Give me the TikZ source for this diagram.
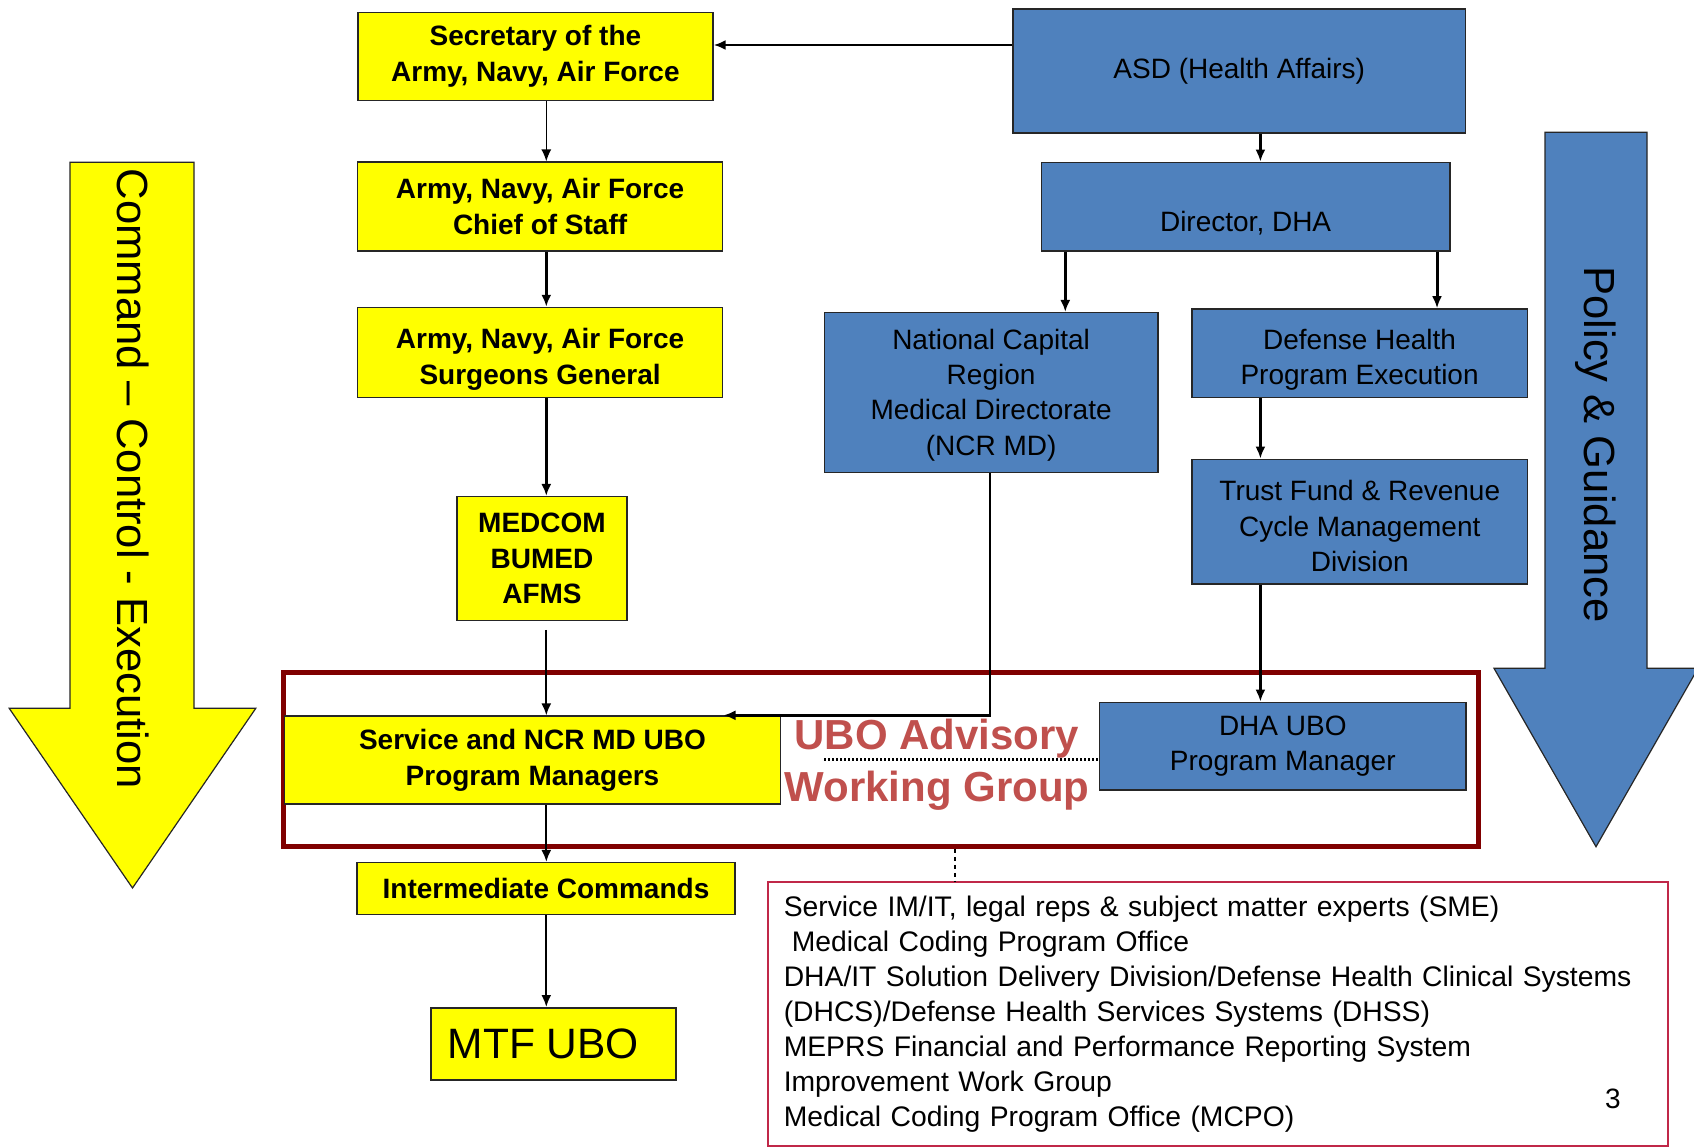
\documentclass[tikz,border=0pt]{standalone}
\usepackage{fontspec}
\setmainfont{Liberation Sans}
\usetikzlibrary{arrows.meta,calc}
\definecolor{ybox}{HTML}{FFFF00}
\definecolor{bbox}{HTML}{4F81BD}
\definecolor{awgframe}{HTML}{800000}
\definecolor{awgtext}{HTML}{C0504D}
\definecolor{listframe}{RGB}{192,40,72}
\tikzset{
  yelbox/.style={draw=black!85, line width=1.5pt, fill=ybox, inner sep=0pt, align=center,
    font=\fontsize{28}{35.5}\selectfont\bfseries},
  bluebox/.style={draw=black!85, line width=1.5pt, fill=bbox, inner sep=0pt, align=center,
    font=\fontsize{28}{35.3}\selectfont},
  ylabel/.style={inner sep=0pt, align=center, font=\fontsize{28}{35.5}\selectfont\bfseries},
  blabel/.style={inner sep=0pt, align=center, font=\fontsize{28}{35.3}\selectfont},
  bigarrowtext/.style={rotate=-90, font=\fontsize{43.6}{50}\selectfont, inner sep=0pt},
  conn/.style={line width=#1, -{Latex[length=12pt,width=10pt]}},
  conn/.default=2pt,
}
\begin{document}
\begin{tikzpicture}[x=1pt,y=-1pt]
\useasboundingbox (0,0) rectangle (1694,1146);
\begin{scope}
\clip (0,0) rectangle (1694,1146);
% big arrows
\draw[fill=ybox, draw=black!85, line width=1.2pt]
  (70,162.3) -- (194,162.3) -- (194,708.3) -- (255.8,708.3) -- (132.5,888)
  -- (9.2,708.3) -- (70,708.3) -- cycle;
\node[bigarrowtext] (cce) at (133,479) {Command – Control - Execution};
\draw[fill=bbox, draw=black!85, line width=1.2pt]
  (1545,132.3) -- (1647,132.3) -- (1647,668.3) -- (1698,668.3) -- (1596,846.7)
  -- (1494,668.3) -- (1545,668.3) -- cycle;
\node[bigarrowtext] (pg) at (1596,444.5) {Policy \& Guidance};
\end{scope}

% advisory working group frame
\node[draw=awgframe, line width=4.5pt, minimum width=1195pt, minimum height=174.4pt, inner sep=0pt]
  (awg) at (881.1,759.5) {};

% yellow boxes
\node[yelbox, minimum width=355pt, minimum height=88pt] (sec) at (535.4,56.5) {Secretary of the\\Army, Navy, Air Force};
\node[yelbox, minimum width=365pt, minimum height=89pt] (chief) at (540.1,206.7) {Army, Navy, Air Force\\Chief of Staff};
\node[yelbox, minimum width=365pt, minimum height=90pt,
  label={[ylabel, yshift=-7pt]center:{Army, Navy, Air Force\\Surgeons General}}] (surg) at (540.1,352.5) {};
\node[yelbox, minimum width=170pt, minimum height=124pt] (medcom) at (542,558.7) {MEDCOM\\BUMED\\AFMS};
\node[yelbox, minimum width=496pt, minimum height=88pt] (svc) at (532.5,760.2) {Service and NCR MD UBO\\Program Managers};
\node[yelbox, minimum width=378pt, minimum height=51.6pt] (inter) at (546,888.5) {Intermediate Commands};
\node[yelbox, minimum width=245pt, minimum height=72pt, font=\fontsize{42.5}{48}\selectfont] (mtf) at (553.3,1043.8) {\hspace*{-20pt}MTF UBO};

% blue boxes
\node[bluebox, minimum width=452.6pt, minimum height=123.7pt] (asd) at (1239.2,71) {ASD (Health Affairs)};
\node[bluebox, minimum width=408.6pt, minimum height=88.7pt,
  label={[blabel, yshift=-16pt]center:Director, DHA}] (dir) at (1245.6,206.7) {};
\node[bluebox, minimum width=333.3pt, minimum height=159.6pt,
  label={[blabel, yshift=-2.5pt]center:{National Capital\\Region\\Medical Directorate\\(NCR MD)}}] (ncr) at (991.1,392.5) {};
\node[bluebox, minimum width=335.6pt, minimum height=88.7pt,
  label={[blabel, yshift=-6.5pt]center:{Defense Health\\Program Execution}}] (dhpe) at (1359.6,353.3) {};
\node[bluebox, minimum width=335.5pt, minimum height=124.7pt,
  label={[blabel, yshift=-4.5pt]center:{Trust Fund \& Revenue\\Cycle Management\\Division}}] (trust) at (1359.8,521.7) {};
\node[bluebox, minimum width=366.5pt, minimum height=87.7pt] (dhaubo) at (1282.8,746.2) {DHA UBO\\Program Manager};

% advisory group title
\node[text=awgtext, font=\fontsize{42}{52.4}\selectfont\bfseries, align=center, inner sep=0pt]
  (awgtitle) at (937,765) {UBO Advisory\\Working Group};

% list box
\node[draw=listframe, line width=1.5pt, anchor=north west, minimum width=900pt, minimum height=264pt,
  text width=868pt, inner xsep=16pt, inner ysep=0pt, align=left,
  font=\fontsize{28.3}{35}\selectfont] (list) at (767,881)
  {Service IM/IT, legal reps \& subject matter experts (SME)\\
   \hspace*{8pt}Medical Coding Program Office\\
   DHA/IT Solution Delivery Division/Defense Health Clinical Systems\\
   (DHCS)/Defense Health Services Systems (DHSS)\\
   MEPRS Financial and Performance Reporting System\\
   Improvement Work Group\\
   Medical Coding Program Office (MCPO)};
\node[font=\fontsize{28}{34}\selectfont, inner sep=0pt] (pagenum) at (1613,1099) {3};

% helper coordinates
\coordinate (ycol) at (546.3,0);
\coordinate (bcol) at (1260.4,0);
\coordinate (lcol) at (1065.3,0);
\coordinate (rcol) at (1437,0);
\coordinate (ncrcol) at (989.8,0);
\coordinate (bend) at (989.8,715.3);
\coordinate (ncrend) at (723.5,715.3);
\coordinate (dotstart) at (824,759.3);
\coordinate (vcol) at (955,0);

% connectors - command chain
\draw[conn=2.5pt] (asd.west |- 0,45) -- (sec.east |- 0,45);
\draw[conn=1.5pt] (sec.south -| ycol) -- (chief.north -| ycol);
\draw[conn=2.5pt] (chief.south -| ycol) -- (surg.north -| ycol);
\draw[conn=2.5pt] (surg.south -| ycol) -- (medcom.north -| ycol);
\draw[conn=2.2pt, shorten <=8.5pt] (medcom.south -| ycol) -- (svc.north -| ycol);
\draw[conn=2.2pt] (svc.south -| ycol) -- (inter.north -| ycol);
\draw[conn=2.2pt] (inter.south -| ycol) -- (mtf.north -| ycol);

% connectors - policy chain
\draw[conn=3pt] (asd.south -| bcol) -- (dir.north -| bcol);
\draw[conn=3pt] (dir.south -| lcol) -- (ncr.north -| lcol);
\draw[conn=3pt] (dir.south -| rcol) -- (dhpe.north -| rcol);
\draw[conn=3pt] (dhpe.south -| bcol) -- (trust.north -| bcol);
\draw[conn=3pt] (trust.south -| bcol) -- (dhaubo.north -| bcol);
\draw[conn=2.5pt] (ncr.south -| ncrcol) -- (bend) -- (ncrend);

% dotted links
\draw[line width=2.5pt, dash pattern=on 2pt off 2pt] (dotstart) -- (dotstart -| dhaubo.west);
\draw[line width=2pt, dash pattern=on 4pt off 4pt] (awg.south -| vcol) -- (list.north -| vcol);
\end{tikzpicture}
\end{document}
